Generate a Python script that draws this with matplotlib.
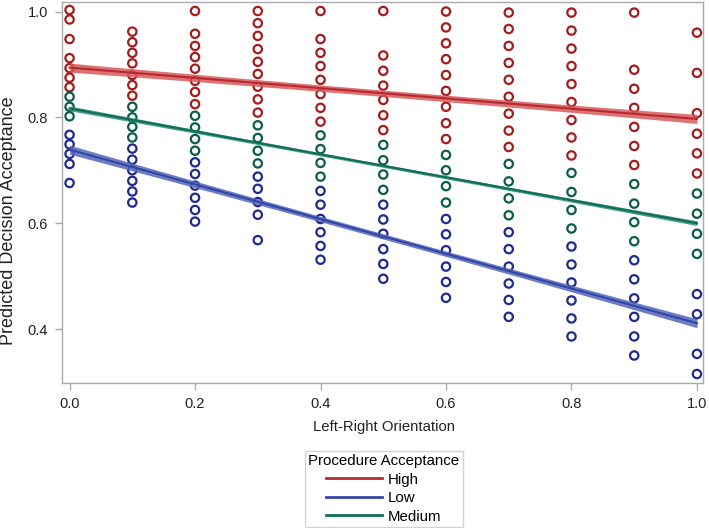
import matplotlib
matplotlib.use("Agg")
import matplotlib.pyplot as plt
from matplotlib.lines import Line2D
import numpy as np

plt.rcParams['font.family'] = ['Liberation Sans', 'DejaVu Sans']

# ---- data ----
x_levels = [0.0, 0.1, 0.2, 0.3, 0.4, 0.5, 0.6, 0.7, 0.8, 0.9, 1.0]

high_pts = [
    [1.003, 0.985, 0.948, 0.912, 0.893, 0.875, 0.857],
    [0.962, 0.942, 0.922, 0.902, 0.880, 0.861, 0.841],
    [1.001, 0.958, 0.935, 0.914, 0.892, 0.869, 0.848, 0.825],
    [1.001, 0.978, 0.954, 0.929, 0.905, 0.882, 0.858, 0.834, 0.809],
    [1.001, 0.948, 0.922, 0.897, 0.871, 0.844, 0.818, 0.792],
    [1.001, 0.917, 0.888, 0.860, 0.833, 0.804, 0.776],
    [1.000, 0.970, 0.940, 0.910, 0.880, 0.850, 0.820, 0.789, 0.759],
    [0.998, 0.967, 0.935, 0.903, 0.871, 0.839, 0.807, 0.775, 0.744],
    [0.998, 0.964, 0.930, 0.897, 0.863, 0.829, 0.795, 0.762, 0.728],
    [0.998, 0.890, 0.854, 0.818, 0.782, 0.746, 0.710],
    [0.960, 0.884, 0.808, 0.769, 0.732, 0.694],
]
medium_pts = [
    [0.839, 0.820, 0.802],
    [0.820, 0.800, 0.782, 0.762],
    [0.803, 0.781, 0.759, 0.737],
    [0.785, 0.761, 0.737, 0.713],
    [0.766, 0.740, 0.714, 0.688],
    [0.748, 0.719, 0.692, 0.663],
    [0.729, 0.700, 0.670, 0.639],
    [0.712, 0.679, 0.647, 0.615],
    [0.695, 0.659, 0.625, 0.590],
    [0.674, 0.637, 0.602, 0.566],
    [0.656, 0.618, 0.580, 0.542],
]
low_pts = [
    [0.767, 0.749, 0.731, 0.712, 0.676],
    [0.741, 0.720, 0.700, 0.680, 0.660, 0.639],
    [0.715, 0.693, 0.671, 0.648, 0.625, 0.603],
    [0.688, 0.665, 0.640, 0.616, 0.568],
    [0.661, 0.635, 0.608, 0.583, 0.557, 0.531],
    [0.635, 0.607, 0.580, 0.551, 0.523, 0.495],
    [0.608, 0.579, 0.549, 0.518, 0.489, 0.459],
    [0.583, 0.551, 0.518, 0.486, 0.455, 0.423],
    [0.556, 0.522, 0.488, 0.454, 0.420, 0.386],
    [0.530, 0.494, 0.458, 0.423, 0.386, 0.350],
    [0.466, 0.428, 0.353, 0.315],
]

# fitted lines (value at x=0 and x=1) and confidence half-widths (ends, middle)
fit_x = [0.0, 1.0]
high_fit = [0.894, 0.797]
low_fit = [0.739, 0.411]
medium_fit = [0.817, 0.600]
high_band = [0.0085, 0.0060]
low_band = [0.0085, 0.0050]
medium_band = [0.0045, 0.0030]

group_names = ["High", "Low", "Medium"]
point_colors = ["#a51c1c", "#1f2a8f", "#0b5c48"]
line_colors = ["#b52a2e", "#3446a3", "#0f6e5a"]
band_colors = ["#d8585b", "#5466bb", "#2a8a75"]

x_ticks = [0.0, 0.2, 0.4, 0.6, 0.8, 1.0]
y_ticks = [0.4, 0.6, 0.8, 1.0]

# ---- figure ----
fig = plt.figure(figsize=(7.09, 5.28), dpi=100)
ax = fig.add_axes([0.0875, 0.2746, 0.904, 0.7216])

groups = [high_pts, low_pts, medium_pts]
fits = [high_fit, low_fit, medium_fit]
bands = [high_band, low_band, medium_band]

for pts, pc in zip(groups, point_colors):
    xs, ys = [], []
    for xv, col in zip(x_levels, pts):
        xs.extend([xv] * len(col))
        ys.extend(col)
    ax.scatter(xs, ys, s=36, facecolors='none', edgecolors=pc, linewidths=1.6, zorder=2)

xx = np.linspace(fit_x[0], fit_x[1], 101)
for fit, band, lc, bc in zip(fits, bands, line_colors, band_colors):
    yy = np.interp(xx, fit_x, fit)
    hw = band[1] + (band[0] - band[1]) * ((xx - 0.5) / 0.5) ** 2
    ax.fill_between(xx, yy - hw, yy + hw, color=bc, alpha=0.85, lw=0, zorder=3)
    ax.plot(xx, yy, color=lc, lw=1.5, zorder=4)

ax.set_xlim(-0.012, 1.0096)
ax.set_ylim(0.298, 1.018)
ax.set_xticks(x_ticks)
ax.set_xticklabels([f"{v:.1f}" for v in x_ticks])
ax.set_yticks(y_ticks)
ax.set_yticklabels([f"{v:.1f}" for v in y_ticks])

for sp in ax.spines.values():
    sp.set_color("#a8aab0")
    sp.set_linewidth(1.0)
ax.tick_params(axis='both', direction='out', length=5, width=1, color="#a8aab0",
               labelsize=10.5, labelcolor="#222222", pad=5)

fig.text(384 / 709, 1 - 427 / 528, "Left-Right Orientation", fontsize=10.7,
         color="#222222", ha='center', va='center')
fig.text(9 / 709, 1 - 221 / 528, "Predicted Decision Acceptance", fontsize=13,
         color="#222222", ha='center', va='center', rotation=90)

handles = [Line2D([0], [0], color=c, lw=2.0) for c in line_colors]
leg = fig.legend(handles, group_names, title="Procedure Acceptance",
                 loc='upper center', bbox_to_anchor=(0.5416, 0.1458),
                 fontsize=10.8, title_fontsize=10.8, handlelength=3.7,
                 frameon=True, fancybox=False, edgecolor="#c8c8c8",
                 borderpad=0.2, labelspacing=0.3, handletextpad=0.4,
                 borderaxespad=0)
leg.get_frame().set_linewidth(1.0)

fig.savefig("out.png", dpi=100)
